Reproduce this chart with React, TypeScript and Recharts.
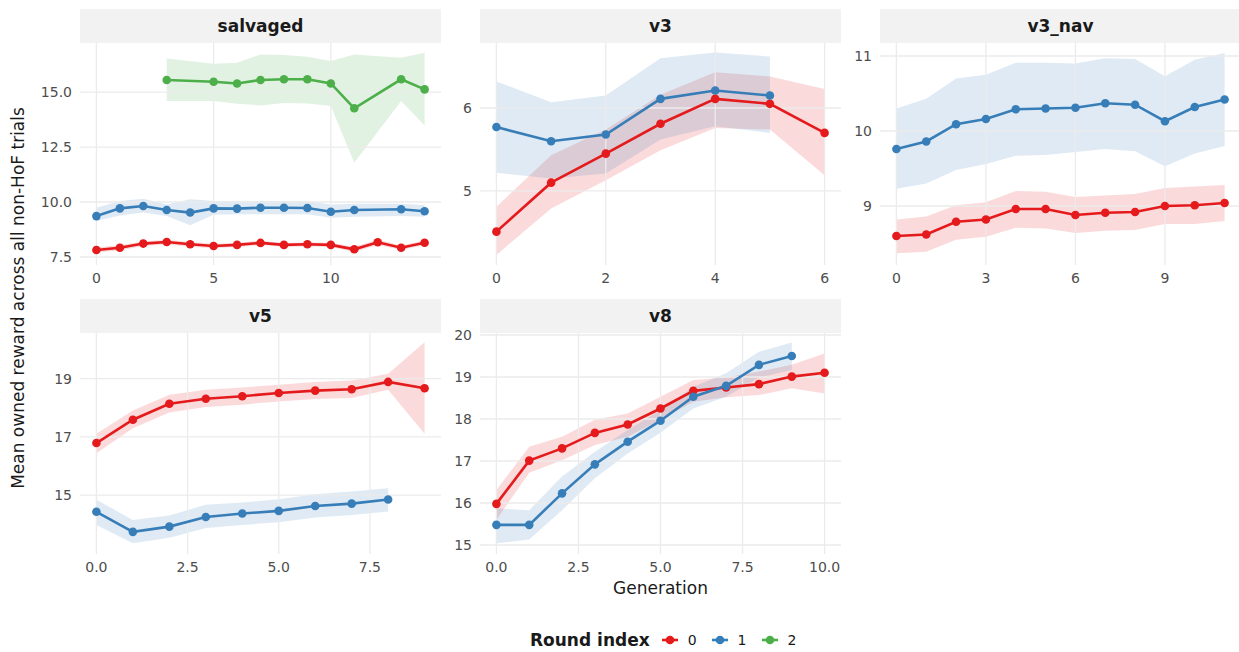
import { ComposedChart, Line, Area, XAxis, YAxis, ReferenceLine } from 'recharts';

const ROUND_COLORS = ['#E41A1C', '#377EB8', '#4DAF4A'];
const ROUND_LABELS = ['0', '1', '2'];

// salvaged
const salvagedGen0 = [0, 1, 2, 3, 4, 5, 6, 7, 8, 9, 10, 11, 12, 13, 14];
const salvagedMean0 = [7.82, 7.92, 8.11, 8.18, 8.08, 8.0, 8.05, 8.14, 8.05, 8.08, 8.05, 7.85, 8.17, 7.92, 8.15];
const salvagedLo0 = [7.71, 7.8, 8.0, 8.07, 7.97, 7.9, 7.95, 8.04, 7.95, 7.98, 7.95, 7.73, 8.04, 7.82, 8.05];
const salvagedHi0 = [7.93, 8.04, 8.2, 8.28, 8.18, 8.1, 8.15, 8.24, 8.14, 8.17, 8.15, 7.97, 8.3, 8.02, 8.25];
const salvagedGen1 = [0, 1, 2, 3, 4, 5, 6, 7, 8, 9, 10, 11, 13, 14];
const salvagedMean1 = [9.36, 9.71, 9.82, 9.64, 9.52, 9.71, 9.7, 9.74, 9.74, 9.73, 9.56, 9.64, 9.67, 9.58];
const salvagedLo1 = [9.14, 9.39, 9.52, 9.36, 8.94, 9.42, 9.44, 9.44, 9.44, 9.44, 9.29, 9.33, 9.36, 9.33];
const salvagedHi1 = [9.74, 10.05, 10.15, 9.89, 10.12, 10.05, 10.03, 10.05, 10.05, 10.03, 9.89, 9.92, 9.92, 9.86];
const salvagedGen2 = [3, 5, 6, 7, 8, 9, 10, 11, 13, 14];
const salvagedMean2 = [15.55, 15.47, 15.39, 15.55, 15.58, 15.58, 15.39, 14.26, 15.58, 15.12];
const salvagedLo2 = [14.59, 14.59, 14.47, 14.39, 14.5, 14.48, 14.36, 11.79, 14.59, 13.48];
const salvagedHi2 = [16.52, 16.29, 16.33, 16.71, 16.68, 16.61, 16.41, 16.71, 16.56, 16.79];

// v3
const v3Gen0 = [0, 1, 2, 3, 4, 5, 6];
const v3Mean0 = [4.51, 5.1, 5.45, 5.81, 6.11, 6.05, 5.7];
const v3Lo0 = [4.23, 4.79, 5.13, 5.49, 5.76, 5.74, 5.19];
const v3Hi0 = [4.81, 5.43, 5.74, 6.16, 6.43, 6.38, 6.23];
const v3Gen1 = [0, 1, 2, 3, 4, 5];
const v3Mean1 = [5.77, 5.6, 5.68, 6.11, 6.21, 6.15];
const v3Lo1 = [5.22, 5.15, 5.21, 5.62, 5.78, 5.7];
const v3Hi1 = [6.32, 6.07, 6.15, 6.6, 6.67, 6.62];

// v3_nav
const v3navGen0 = [0, 1, 2, 3, 4, 5, 6, 7, 8, 9, 10, 11];
const v3navMean0 = [8.6, 8.62, 8.79, 8.82, 8.96, 8.96, 8.88, 8.91, 8.92, 9.0, 9.01, 9.04];
const v3navLo0 = [8.37, 8.39, 8.55, 8.59, 8.71, 8.7, 8.64, 8.67, 8.68, 8.76, 8.76, 8.8];
const v3navHi0 = [8.82, 8.86, 9.01, 9.05, 9.2, 9.19, 9.12, 9.14, 9.16, 9.24, 9.26, 9.28];
const v3navGen1 = [0, 1, 2, 3, 4, 5, 6, 7, 8, 9, 10, 11];
const v3navMean1 = [9.76, 9.86, 10.09, 10.16, 10.29, 10.3, 10.31, 10.37, 10.35, 10.13, 10.32, 10.42];
const v3navLo1 = [9.23, 9.3, 9.48, 9.56, 9.67, 9.68, 9.72, 9.76, 9.73, 9.53, 9.7, 9.8];
const v3navHi1 = [10.3, 10.43, 10.7, 10.75, 10.91, 10.91, 10.9, 10.97, 10.96, 10.73, 10.95, 11.04];

// v5
const v5Gen0 = [0, 1, 2, 3, 4, 5, 6, 7, 8, 9];
const v5Mean0 = [16.79, 17.59, 18.14, 18.31, 18.4, 18.51, 18.59, 18.64, 18.89, 18.67];
const v5Lo0 = [16.44, 17.3, 17.84, 18.03, 18.11, 18.22, 18.3, 18.34, 18.62, 17.11];
const v5Hi0 = [17.11, 17.91, 18.45, 18.62, 18.7, 18.79, 18.89, 18.94, 19.17, 20.25];
const v5Gen1 = [0, 1, 2, 3, 4, 5, 6, 7, 8];
const v5Mean1 = [14.43, 13.74, 13.92, 14.25, 14.37, 14.46, 14.63, 14.71, 14.85];
const v5Lo1 = [13.98, 13.35, 13.54, 13.87, 13.98, 14.07, 14.23, 14.32, 14.44];
const v5Hi1 = [14.84, 14.15, 14.3, 14.67, 14.75, 14.86, 15.03, 15.13, 15.24];

// v8
const v8Gen0 = [0, 1, 2, 3, 4, 5, 6, 7, 8, 9, 10];
const v8Mean0 = [15.98, 17.01, 17.3, 17.67, 17.87, 18.25, 18.67, 18.75, 18.83, 19.01, 19.1];
const v8Lo0 = [15.6, 16.72, 17.02, 17.38, 17.58, 17.98, 18.41, 18.52, 18.57, 18.73, 18.61];
const v8Hi0 = [16.31, 17.34, 17.58, 17.98, 18.13, 18.53, 18.93, 18.99, 19.13, 19.29, 19.56];
const v8Gen1 = [0, 1, 2, 3, 4, 5, 6, 7, 8, 9];
const v8Mean1 = [15.48, 15.48, 16.23, 16.92, 17.46, 17.96, 18.53, 18.79, 19.29, 19.5];
const v8Lo1 = [15.04, 15.13, 15.83, 16.59, 17.18, 17.67, 18.25, 18.53, 18.99, 19.17];
const v8Hi1 = [15.87, 15.83, 16.63, 17.22, 17.74, 18.21, 18.77, 19.09, 19.6, 19.82];

const PANEL_W = 361;
const STRIP_H = 34;
const Y_AXIS_W = 60;
const X_AXIS_H = 30;
const TOP_PAD = 10; // room so the top y tick label is not clipped
const GRID = '#ebebeb';
const FONT = '"DejaVu Sans", sans-serif';

type Row = { gen: number; mean: number; band: [number, number] };
type Series = { round: number; rows: Row[] };

function series(round: number, gen: number[], mean: number[], lo: number[], hi: number[]): Series {
  return {
    round,
    rows: gen.map((g, i) => ({ gen: g, mean: mean[i], band: [lo[i], hi[i]] as [number, number] })),
  };
}

const oneDecimal = (v: number) => v.toFixed(1);
const plain = (v: number) => String(v);

interface PanelProps {
  title: string;
  left: number;
  top: number;
  height: number;
  data: Series[];
  xDomain: [number, number];
  xTicks: number[];
  yDomain: [number, number];
  yTicks: number[];
  xFmt: (v: number) => string;
  yFmt: (v: number) => string;
}

function Panel({ title, left, top, height, data, xDomain, xTicks, yDomain, yTicks, xFmt, yFmt }: PanelProps) {
  const tick = { fill: '#4d4d4d', fontSize: 14, fontFamily: FONT };
  return (
    <>
      <div
        style={{
          position: 'absolute',
          left,
          top: top - STRIP_H,
          width: PANEL_W,
          height: STRIP_H,
          background: '#f2f2f2',
          display: 'flex',
          alignItems: 'center',
          justifyContent: 'center',
          fontFamily: FONT,
          fontWeight: 'bold',
          fontSize: 17,
          color: '#1a1a1a',
        }}
      >
        {title}
      </div>
      <div style={{ position: 'absolute', left: left - Y_AXIS_W, top: top - TOP_PAD }}>
        <ComposedChart
          width={PANEL_W + Y_AXIS_W}
          height={height + X_AXIS_H + TOP_PAD}
          margin={{ top: TOP_PAD, right: 0, bottom: 0, left: 0 }}
        >
          <XAxis
            type="number"
            dataKey="gen"
            domain={xDomain}
            ticks={xTicks}
            allowDataOverflow
            interval={0}
            axisLine={false}
            tickLine={false}
            tickSize={0}
            tickMargin={8}
            height={X_AXIS_H}
            tick={tick}
            tickFormatter={xFmt}
          />
          <YAxis
            type="number"
            domain={yDomain}
            ticks={yTicks}
            allowDataOverflow
            interval={0}
            axisLine={false}
            tickLine={false}
            tickSize={0}
            tickMargin={8}
            width={Y_AXIS_W}
            tick={tick}
            tickFormatter={yFmt}
          />
          {/* major grid */}
          {xTicks.map((t) => (
            <ReferenceLine key={`gx-${t}`} x={t} stroke={GRID} strokeWidth={1.3} />
          ))}
          {yTicks.map((t) => (
            <ReferenceLine key={`gy-${t}`} y={t} stroke={GRID} strokeWidth={1.3} />
          ))}
          {data.map((s) => (
            <Area
              key={`band-${s.round}`}
              data={s.rows}
              dataKey="band"
              type="linear"
              stroke="none"
              fill={ROUND_COLORS[s.round]}
              fillOpacity={0.16}
              isAnimationActive={false}
            />
          ))}
          {data.map((s) => (
            <Line
              key={`line-${s.round}`}
              data={s.rows}
              dataKey="mean"
              type="linear"
              stroke={ROUND_COLORS[s.round]}
              strokeWidth={2.6}
              dot={{ r: 4.3, fill: ROUND_COLORS[s.round], stroke: ROUND_COLORS[s.round], strokeWidth: 0 }}
              activeDot={false}
              isAnimationActive={false}
            />
          ))}
        </ComposedChart>
      </div>
    </>
  );
}

const salvaged = [
  series(0, salvagedGen0, salvagedMean0, salvagedLo0, salvagedHi0),
  series(1, salvagedGen1, salvagedMean1, salvagedLo1, salvagedHi1),
  series(2, salvagedGen2, salvagedMean2, salvagedLo2, salvagedHi2),
];
const v3 = [series(0, v3Gen0, v3Mean0, v3Lo0, v3Hi0), series(1, v3Gen1, v3Mean1, v3Lo1, v3Hi1)];
const v3nav = [
  series(0, v3navGen0, v3navMean0, v3navLo0, v3navHi0),
  series(1, v3navGen1, v3navMean1, v3navLo1, v3navHi1),
];
const v5 = [series(0, v5Gen0, v5Mean0, v5Lo0, v5Hi0), series(1, v5Gen1, v5Mean1, v5Lo1, v5Hi1)];
const v8 = [series(0, v8Gen0, v8Mean0, v8Lo0, v8Hi0), series(1, v8Gen1, v8Mean1, v8Lo1, v8Hi1)];

function LegendKey({ color }: { color: string }) {
  return (
    <svg width={16} height={12} style={{ display: 'block' }}>
      <line x1={0} y1={6} x2={16} y2={6} stroke={color} strokeWidth={2.6} />
      <circle cx={8} cy={6} r={4.3} fill={color} />
    </svg>
  );
}

export default function App() {
  return (
    <div
      style={{
        position: 'absolute',
        left: 0,
        top: 0,
        width: 1239,
        height: 652,
        overflow: 'hidden',
        background: '#ffffff',
        fontFamily: FONT,
      }}
    >
      <Panel title="salvaged" left={80} top={43} height={222} data={salvaged}
        xDomain={[-0.7, 14.7]} xTicks={[0, 5, 10]} yDomain={[7.136, 17.23]} yTicks={[7.5, 10, 12.5, 15]}
        xFmt={plain} yFmt={oneDecimal} />
      <Panel title="v3" left={480} top={43} height={222} data={v3}
        xDomain={[-0.3, 6.3]} xTicks={[0, 2, 4, 6]} yDomain={[4.108, 6.783]} yTicks={[5, 6]}
        xFmt={plain} yFmt={plain} />
      <Panel title="v3_nav" left={880} top={43} height={222} data={v3nav}
        xDomain={[-0.55, 11.55]} xTicks={[0, 3, 6, 9]} yDomain={[8.213, 11.173]} yTicks={[9, 10, 11]}
        xFmt={plain} yFmt={plain} />
      <Panel title="v5" left={80} top={333} height={221} data={v5}
        xDomain={[-0.45, 9.45]} xTicks={[0, 2.5, 5, 7.5]} yDomain={[12.98, 20.57]} yTicks={[15, 17, 19]}
        xFmt={oneDecimal} yFmt={plain} />
      <Panel title="v8" left={480} top={333} height={221} data={v8}
        xDomain={[-0.5, 10.5]} xTicks={[0, 2.5, 5, 7.5, 10]} yDomain={[14.786, 20.048]} yTicks={[15, 16, 17, 18, 19, 20]}
        xFmt={oneDecimal} yFmt={plain} />

      {/* axis titles */}
      <div style={{ position: 'absolute', left: 480, width: PANEL_W, top: 578, textAlign: 'center', fontSize: 17, color: '#1a1a1a' }}>
        Generation
      </div>
      <div
        style={{
          position: 'absolute',
          left: 18,
          top: 298,
          transform: 'translate(-50%, -50%) rotate(-90deg)',
          whiteSpace: 'nowrap',
          fontSize: 17,
          color: '#1a1a1a',
        }}
      >
        Mean owned reward across all non-HoF trials
      </div>

      {/* legend */}
      <div style={{ position: 'absolute', left: 530, top: 629, height: 22, display: 'flex', alignItems: 'center', color: '#1a1a1a' }}>
        <span style={{ fontWeight: 'bold', fontSize: 17, marginRight: 12 }}>Round index</span>
        {ROUND_COLORS.map((c, i) => (
          <div key={c} style={{ display: 'flex', alignItems: 'center', marginRight: 15 }}>
            <LegendKey color={c} />
            <span style={{ fontSize: 14, marginLeft: 10 }}>{ROUND_LABELS[i]}</span>
          </div>
        ))}
      </div>
    </div>
  );
}
